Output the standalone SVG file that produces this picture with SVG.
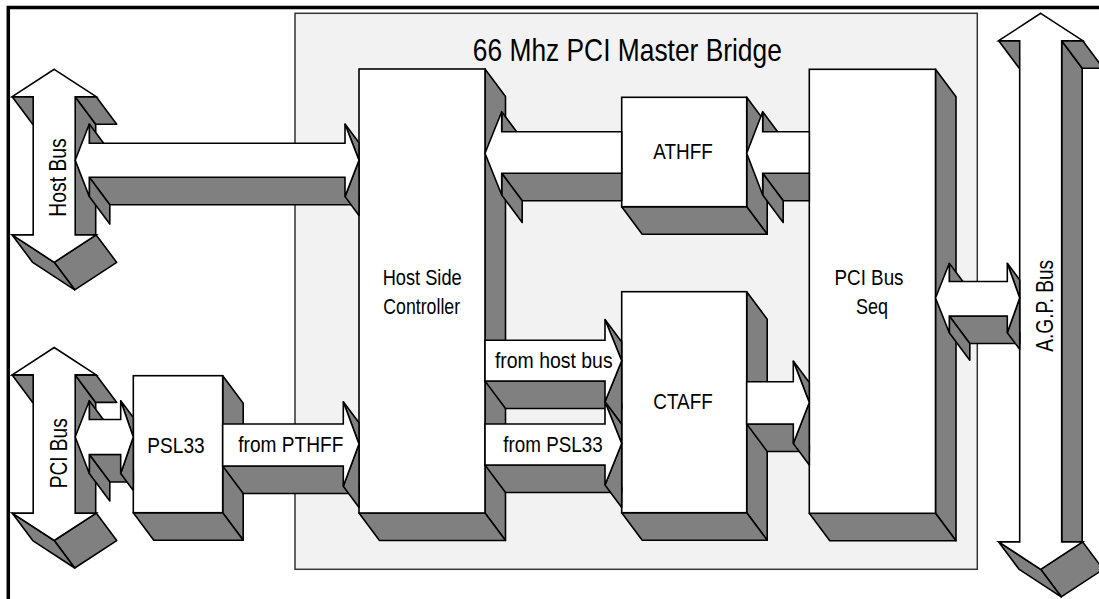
<svg xmlns="http://www.w3.org/2000/svg" width="1099" height="599" viewBox="0 0 1099 599">
<style>
.f{fill:#ffffff;stroke:#000;stroke-width:1.6}
.s{fill:#808080;stroke:#000;stroke-width:1.6;stroke-linejoin:round}
.t{font-family:"Liberation Sans Narrow","Liberation Sans",Arial,sans-serif;font-size:22.5px;text-anchor:middle;fill:#000}
.r{font-size:24px}
</style>
<rect x="0" y="0" width="1099" height="599" fill="#ffffff"/>
<g id="frame">
<path d="M8.3,599 L8.3,7.5 L1099,7.5" fill="none" stroke="#000" stroke-width="3.5"/>
</g>
<g id="bridge-panel">
<rect x="295" y="13.3" width="682.3" height="556" fill="#f2f2f2" stroke="#333" stroke-width="1.5"/>
<text class="t" x="627.3" y="60.7" style="font-size:32px" textLength="309" lengthAdjust="spacingAndGlyphs">66 Mhz PCI Master Bridge</text>
</g>
<g id="host-bus">
<g transform="translate(54.2,69.3)">
<polygon class="s" points="21,27.4 21,165.6 41.5,193.1 41.5,54.9"/>
<polygon class="s" points="42,27.4 21,27.4 41.5,54.9 62.5,54.9"/>
<polygon class="s" points="-21,27.4 -42,27.4 -21.5,54.9 -0.5,54.9"/>
<polygon class="s" points="42,165.6 0,193 20.5,220.5 62.5,193.1"/>
<polygon class="s" points="0,193 -42,165.6 -21.5,193.1 20.5,220.5"/>
<polygon class="f" points="0,0 42,27.4 21,27.4 21,165.6 42,165.6 0,193 -42,165.6 -21,165.6 -21,27.4 -42,27.4"/>
</g>
<text class="t r" transform="translate(66.3,177.5) rotate(-90)" textLength="78.4" lengthAdjust="spacingAndGlyphs">Host Bus</text>
</g>
<g id="pci-bus">
<g transform="translate(54.2,347.5)">
<polygon class="s" points="21,27.4 21,165.6 41.5,193.1 41.5,54.9"/>
<polygon class="s" points="42,27.4 21,27.4 41.5,54.9 62.5,54.9"/>
<polygon class="s" points="-21,27.4 -42,27.4 -21.5,54.9 -0.5,54.9"/>
<polygon class="s" points="42,165.6 0,193 20.5,220.5 62.5,193.1"/>
<polygon class="s" points="0,193 -42,165.6 -21.5,193.1 20.5,220.5"/>
<polygon class="f" points="0,0 42,27.4 21,27.4 21,165.6 42,165.6 0,193 -42,165.6 -21,165.6 -21,27.4 -42,27.4"/>
</g>
<text class="t r" transform="translate(66.5,453.3) rotate(-90)" textLength="70" lengthAdjust="spacingAndGlyphs">PCI Bus</text>
</g>
<g id="psl33">
<polygon class="s" points="222.7,375.7 243.2,403.2 243.2,540.2 222.7,512.7"/>
<polygon class="s" points="133.3,512.7 222.7,512.7 243.2,540.2 153.8,540.2"/>
<rect class="f" x="133.3" y="375.7" width="89.4" height="137"/>
<text class="t" x="176" y="452.7" textLength="57.3" lengthAdjust="spacingAndGlyphs">PSL33</text>
</g>
<g id="host-side-controller">
<polygon class="s" points="485,69 505.5,96.5 505.5,540.5 485,513"/>
<polygon class="s" points="359,513 485,513 505.5,540.5 379.5,540.5"/>
<rect class="f" x="359" y="69" width="126" height="444"/>
<text class="t" x="422.2" y="285" textLength="79" lengthAdjust="spacingAndGlyphs">Host Side</text>
<text class="t" x="421.7" y="314.3" textLength="76.7" lengthAdjust="spacingAndGlyphs">Controller</text>
</g>
<g id="athff">
<polygon class="s" points="746.7,97.3 767.2,124.8 767.2,234.2 746.7,206.7"/>
<polygon class="s" points="621.7,206.7 746.7,206.7 767.2,234.2 642.2,234.2"/>
<rect class="f" x="621.7" y="97.3" width="125" height="109.4"/>
<text class="t" x="683" y="159.3" textLength="59.4" lengthAdjust="spacingAndGlyphs">ATHFF</text>
</g>
<g id="ctaff">
<polygon class="s" points="746.7,291.7 767.2,319.2 767.2,540.2 746.7,512.7"/>
<polygon class="s" points="621.7,512.7 746.7,512.7 767.2,540.2 642.2,540.2"/>
<rect class="f" x="621.7" y="291.7" width="125" height="221"/>
<text class="t" x="683" y="409.3" textLength="59.4" lengthAdjust="spacingAndGlyphs">CTAFF</text>
</g>
<g id="pci-bus-seq">
<polygon class="s" points="935.5,69.3 956,96.8 956,540.8 935.5,513.3"/>
<polygon class="s" points="809.3,513.3 935.5,513.3 956,540.8 829.8,540.8"/>
<rect class="f" x="809.3" y="69.3" width="126.2" height="444"/>
<text class="t" x="869" y="285" textLength="69" lengthAdjust="spacingAndGlyphs">PCI Bus</text>
<text class="t" x="872" y="314" textLength="32" lengthAdjust="spacingAndGlyphs">Seq</text>
</g>
<g id="agp-bus">
<g transform="translate(1040.7,13.3)">
<polygon class="s" points="21,27.4 21,528.6 41.5,556.1 41.5,54.9"/>
<polygon class="s" points="42,27.4 21,27.4 41.5,54.9 62.5,54.9"/>
<polygon class="s" points="-21,27.4 -42,27.4 -21.5,54.9 -0.5,54.9"/>
<polygon class="s" points="42,528.6 0,556 20.5,583.5 62.5,556.1"/>
<polygon class="s" points="0,556 -42,528.6 -21.5,556.1 20.5,583.5"/>
<polygon class="f" points="0,0 42,27.4 21,27.4 21,528.6 42,528.6 0,556 -42,528.6 -21,528.6 -21,27.4 -42,27.4"/>
</g>
<text class="t r" transform="translate(1053,305.8) rotate(-90)" textLength="91.7" lengthAdjust="spacingAndGlyphs">A.G.P. Bus</text>
</g>
<g id="connectors">
<g id="hostbus-hsc">
<polygon class="s" points="89.3,177.3 345,177.3 359,196.1 359,204.8 109.8,204.8"/>
<polygon class="s" points="89.3,124 89.3,143.3 109.8,170.8 109.8,151.5"/>
<polygon class="s" points="89.3,177.3 89.3,196.6 109.8,224.1 109.8,204.8"/>
<polygon class="s" points="345,124 359,142.8 359,160.3"/>
<polygon class="s" points="359,160.3 345,196.6 359,215.4"/>
<polygon class="f" points="75.2,160.3 89.3,124 89.3,143.3 345,143.3 345,124 359,160.3 345,196.6 345,177.3 89.3,177.3 89.3,196.6"/>
</g>
<g id="pcibus-psl33">
<polygon class="s" points="89.3,454.5 120.7,454.5 133.3,471.4 133.3,482 109.8,482"/>
<polygon class="s" points="89.3,400.7 89.3,419.5 109.8,447 109.8,428.2"/>
<polygon class="s" points="89.3,454.5 89.3,473.5 109.8,501 109.8,482"/>
<polygon class="s" points="120.7,400.7 133.3,417.6 133.3,437"/>
<polygon class="s" points="133.3,437 120.7,473.5 133.3,490.4"/>
<polygon class="f" points="75.2,437 89.3,400.7 89.3,419.5 120.7,419.5 120.7,400.7 133.3,437 120.7,473.5 120.7,454.5 89.3,454.5 89.3,473.5"/>
</g>
<g id="psl33-hsc">
<polygon class="s" points="222.7,466 343.3,466 359,487.1 359,493.5 243.2,493.5"/>
<polygon class="s" points="343.3,401.7 359,422.8 359,444"/>
<polygon class="s" points="359,444 343.3,486.3 359,507.4"/>
<polygon class="f" points="222.7,424 343.3,424 343.3,401.7 359,444 343.3,486.3 343.3,466 222.7,466"/>
<text class="t" x="290.8" y="451.7" textLength="105" lengthAdjust="spacingAndGlyphs">from PTHFF</text>
</g>
<g id="athff-hsc">
<polygon class="s" points="501.7,173.3 621.7,173.3 621.7,200.8 522.2,200.8"/>
<polygon class="s" points="501.7,173.3 501.7,195 522.2,222.5 522.2,200.8"/>
<polygon class="s" points="501.7,111.7 501.7,131.7 522.2,159.2 522.2,139.2"/>
<polygon class="f" points="485,153.3 501.7,111.7 501.7,131.7 621.7,131.7 621.7,173.3 501.7,173.3 501.7,195"/>
</g>
<g id="seq-athff">
<polygon class="s" points="762.7,173.3 809.3,173.3 809.3,200.8 783.2,200.8"/>
<polygon class="s" points="762.7,173.3 762.7,195 783.2,222.5 783.2,200.8"/>
<polygon class="s" points="762.7,111.7 762.7,131.7 783.2,159.2 783.2,139.2"/>
<polygon class="f" points="746.7,153.3 762.7,111.7 762.7,131.7 809.3,131.7 809.3,173.3 762.7,173.3 762.7,195"/>
</g>
<g id="hsc-ctaff-hostbus">
<polygon class="s" points="485,381 605,381 621.7,403.4 621.7,408.5 505.5,408.5"/>
<polygon class="s" points="605,319.5 621.7,341.9 621.7,360.7"/>
<polygon class="s" points="621.7,360.7 605,401.8 621.7,424.2"/>
<polygon class="f" points="485,340.3 605,340.3 605,319.5 621.7,360.7 605,401.8 605,381 485,381"/>
<text class="t" x="553.8" y="368.3" textLength="117.7" lengthAdjust="spacingAndGlyphs">from host bus</text>
</g>
<g id="hsc-ctaff-psl33">
<polygon class="s" points="485,465 605,465 621.7,487.4 621.7,492.5 505.5,492.5"/>
<polygon class="s" points="605,401.8 621.7,424.2 621.7,443.5"/>
<polygon class="s" points="621.7,443.5 605,485 621.7,507.4"/>
<polygon class="f" points="485,424 605,424 605,401.8 621.7,443.5 605,485 605,465 485,465"/>
<text class="t" x="553" y="451.7" textLength="99.3" lengthAdjust="spacingAndGlyphs">from PSL33</text>
</g>
<g id="ctaff-seq">
<polygon class="s" points="746.7,424 793.3,424 809.3,445.5 809.3,451.5 767.2,451.5"/>
<polygon class="s" points="793.3,361 809.3,382.5 809.3,402.5"/>
<polygon class="s" points="809.3,402.5 793.3,443.5 809.3,465"/>
<polygon class="f" points="746.7,381.7 793.3,381.7 793.3,361 809.3,402.5 793.3,443.5 793.3,424 746.7,424"/>
</g>
<g id="seq-agp">
<polygon class="s" points="949.3,316 1007.3,316 1019.7,332.6 1019.7,343.5 969.8,343.5"/>
<polygon class="s" points="949.3,263.3 949.3,281.5 969.8,309 969.8,290.8"/>
<polygon class="s" points="949.3,316 949.3,332.7 969.8,360.2 969.8,343.5"/>
<polygon class="s" points="1007.3,263.3 1019.7,279.9 1019.7,298"/>
<polygon class="s" points="1019.7,298 1007.3,332.7 1019.7,349.3"/>
<polygon class="f" points="935.5,298 949.3,263.3 949.3,281.5 1007.3,281.5 1007.3,263.3 1019.7,298 1007.3,332.7 1007.3,316 949.3,316 949.3,332.7"/>
</g>
</g>
</svg>
